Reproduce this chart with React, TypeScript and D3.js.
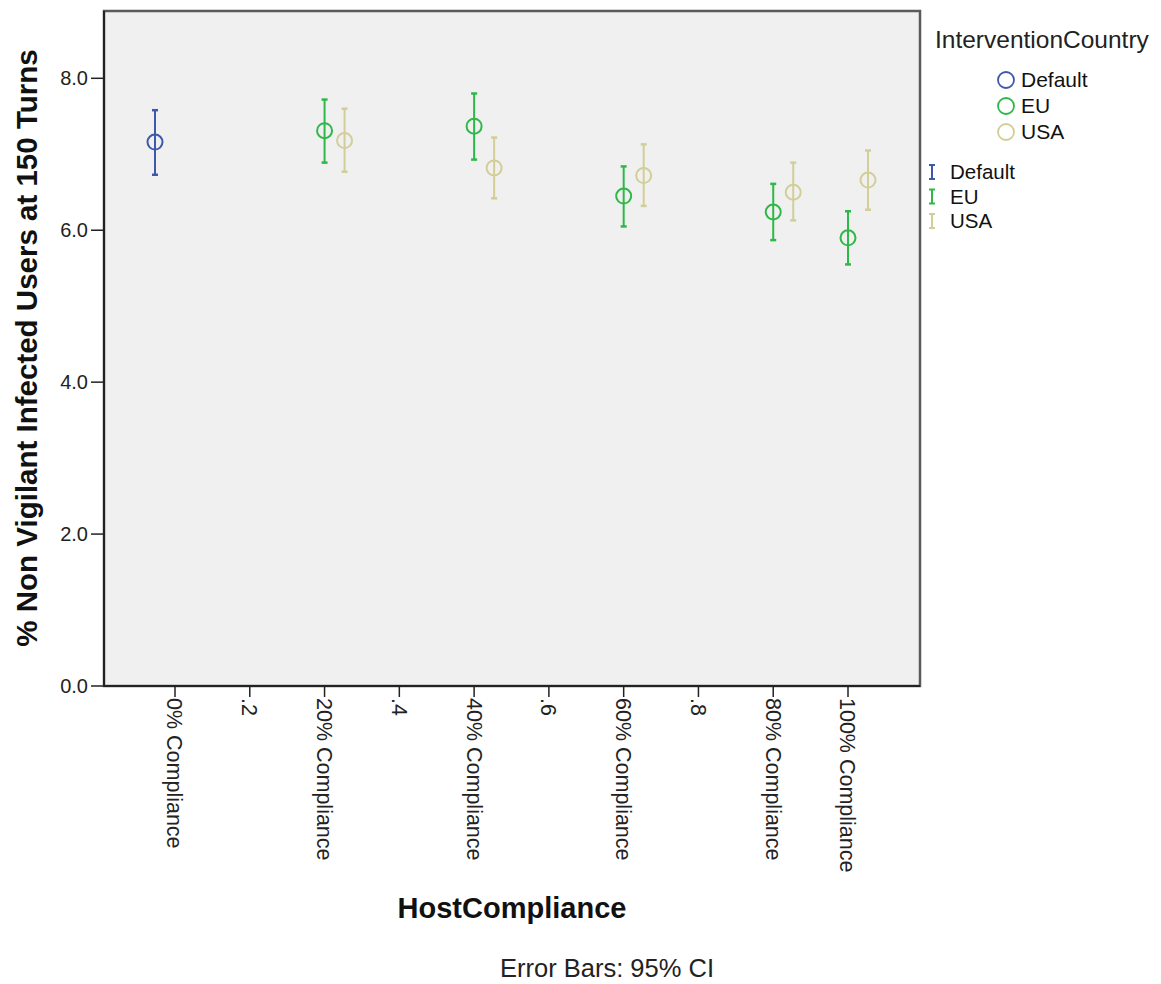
import React from "react";
import * as d3 from "d3";

const categories = ["0% Compliance", ".2", "20% Compliance", ".4", "40% Compliance", ".6", "60% Compliance", ".8", "80% Compliance", "100% Compliance"];
const yTicks = [0, 2, 4, 6, 8];

const seriesNames = ["Default", "EU", "USA"];
const seriesColors = ["#3e58ac", "#2eb848", "#d3ce97"];

const defaultCats = ["0% Compliance"];
const defaultMean = [7.16];
const defaultLow = [6.73];
const defaultHigh = [7.58];

const euCats = ["20% Compliance", "40% Compliance", "60% Compliance", "80% Compliance", "100% Compliance"];
const euMean = [7.31, 7.37, 6.45, 6.24, 5.9];
const euLow = [6.89, 6.93, 6.05, 5.87, 5.55];
const euHigh = [7.72, 7.8, 6.84, 6.61, 6.25];

const usaCats = ["20% Compliance", "40% Compliance", "60% Compliance", "80% Compliance", "100% Compliance"];
const usaMean = [7.18, 6.82, 6.72, 6.5, 6.66];
const usaLow = [6.77, 6.42, 6.32, 6.13, 6.27];
const usaHigh = [7.6, 7.22, 7.13, 6.89, 7.05];

const W = 1161;
const H = 984;
const plot = { left: 104, right: 920, top: 11, bottom: 686 };
const FONT = "'Liberation Sans', Arial, sans-serif";

export default function App() {
  const x = d3.scalePoint<string>().domain(categories).range([175, 848]);
  const y = d3.scaleLinear().domain([0, 8]).range([plot.bottom, 78.3]);
  const dodge = d3.scalePoint<string>().domain(seriesNames).range([-20, 20]);

  const series = [
    { name: "Default", cats: defaultCats, mean: defaultMean, low: defaultLow, high: defaultHigh },
    { name: "EU", cats: euCats, mean: euMean, low: euLow, high: euHigh },
    { name: "USA", cats: usaCats, mean: usaMean, low: usaLow, high: usaHigh },
  ];

  return (
    <svg width={W} height={H} style={{ position: "absolute", left: 0, top: 0, background: "#fff" }} fontFamily={FONT}>
      <rect x={plot.left} y={plot.top} width={plot.right - plot.left} height={plot.bottom - plot.top} fill="#f0f0f0" stroke="#5a5a5a" strokeWidth={2.5} />
      {/* axes */}
      <line x1={plot.left} x2={plot.left} y1={plot.top} y2={plot.bottom} stroke="#222" strokeWidth={2} />
      <line x1={plot.left} x2={plot.right} y1={plot.bottom} y2={plot.bottom} stroke="#222" strokeWidth={2} />
      {yTicks.map((t) => (
        <g key={t}>
          <line x1={plot.left - 13} x2={plot.left} y1={y(t)} y2={y(t)} stroke="#222" strokeWidth={1.5} />
          <text x={88} y={y(t)} dy="0.35em" textAnchor="end" fontSize={20} fill="#222">
            {d3.format(".1f")(t)}
          </text>
        </g>
      ))}
      {categories.map((c) => (
        <g key={c} transform={`translate(${x(c)},${plot.bottom})`}>
          <line y1={0} y2={11} stroke="#222" strokeWidth={1.5} />
          <text transform="translate(0,12) rotate(90)" dy="0.35em" textAnchor="start" fontSize={21.5} fill="#222">
            {c}
          </text>
        </g>
      ))}
      {/* data */}
      {series.map((s, si) => (
        <g key={s.name} stroke={seriesColors[si]} fill="none">
          {s.cats.map((c, i) => {
            const cx = (x(c) as number) + (dodge(s.name) as number);
            return (
              <g key={c}>
                <line x1={cx} x2={cx} y1={y(s.high[i])} y2={y(s.low[i])} strokeWidth={2} />
                <line x1={cx - 3} x2={cx + 3} y1={y(s.high[i])} y2={y(s.high[i])} strokeWidth={2.5} />
                <line x1={cx - 3} x2={cx + 3} y1={y(s.low[i])} y2={y(s.low[i])} strokeWidth={2.5} />
                <circle cx={cx} cy={y(s.mean[i])} r={7.5} strokeWidth={2} />
              </g>
            );
          })}
        </g>
      ))}
      {/* axis titles */}
      <text transform={`translate(37,348) rotate(-90)`} textAnchor="middle" fontSize={29.5} fontWeight="bold" fill="#111">
        % Non Vigilant Infected Users at 150 Turns
      </text>
      <text x={512} y={918} textAnchor="middle" fontSize={29} fontWeight="bold" fill="#111">
        HostCompliance
      </text>
      <text x={607} y={977} textAnchor="middle" fontSize={25.5} fill="#222">
        Error Bars: 95% CI
      </text>
      {/* legend */}
      <text x={935} y={48} fontSize={24.5} fill="#222">
        InterventionCountry
      </text>
      {seriesNames.map((n, i) => (
        <g key={"c" + n} transform={`translate(1006,${80 + i * 26})`}>
          <circle r={8} fill="none" stroke={seriesColors[i]} strokeWidth={1.8} />
          <text x={15} dy="0.35em" fontSize={21} fill="#111">
            {n}
          </text>
        </g>
      ))}
      {seriesNames.map((n, i) => (
        <g key={"e" + n} transform={`translate(932,${172 + i * 24.5})`} stroke={seriesColors[i]}>
          <line y1={-7} y2={7} strokeWidth={2} />
          <line x1={-3} x2={3} y1={-7} y2={-7} strokeWidth={2} />
          <line x1={-3} x2={3} y1={7} y2={7} strokeWidth={2} />
          <text x={18} dy="0.35em" fontSize={20.5} fill="#111" stroke="none">
            {n}
          </text>
        </g>
      ))}
    </svg>
  );
}
